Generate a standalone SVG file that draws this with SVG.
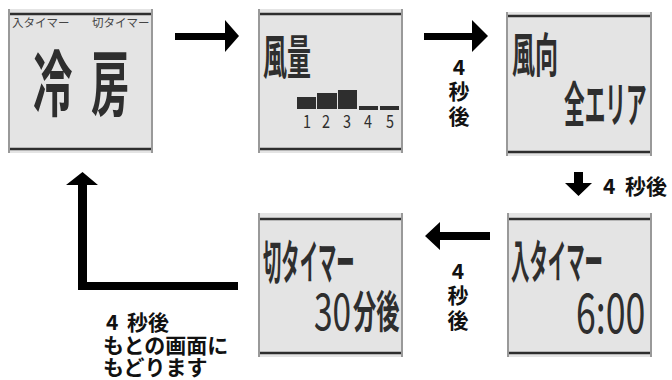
<svg xmlns="http://www.w3.org/2000/svg" width="672" height="380" viewBox="0 0 672 380">
<style>
.bg{fill:#e4e4e4}
.side{stroke:#999;stroke-width:2}
.bar{stroke:#2e2e2e;stroke-width:2.5}
.lcd{font-family:"Noto Sans CJK JP","Noto Sans",sans-serif;font-weight:bold;fill:#2e2e2e}
.dig{font-family:"Noto Sans CJK JP","Noto Sans",sans-serif;font-weight:normal;fill:#2e2e2e}
.sm{font-family:"Noto Sans CJK JP","Noto Sans",sans-serif;font-size:11.5px;fill:#444}
.lbl{font-family:"Noto Sans CJK JP","Noto Sans",sans-serif;font-weight:bold;font-size:21px;fill:#111}
.arr{fill:#000}
</style>
<g id="panel-cool">
<rect class="bg" x="8" y="9" width="145" height="144"/>
<line class="side" x1="9" y1="9" x2="9" y2="153"/>
<line class="side" x1="152" y1="9" x2="152" y2="153"/>
<line class="bar" x1="10" y1="14" x2="151" y2="14"/>
<line class="bar" x1="10" y1="149" x2="151" y2="149"/>
<text class="sm" x="12" y="27">入タイマー</text>
<text class="sm" x="92" y="27">切タイマー</text>
<text class="lcd" font-size="72" transform="translate(33,110) scale(0.55,1)">冷</text>
<text class="lcd" font-size="72" transform="translate(91,110) scale(0.53,1)">房</text>
</g>
<g id="panel-fan">
<rect class="bg" x="258" y="9" width="145" height="144"/>
<line class="side" x1="259" y1="9" x2="259" y2="153"/>
<line class="side" x1="402" y1="9" x2="402" y2="153"/>
<line class="bar" x1="260" y1="14" x2="401" y2="14"/>
<line class="bar" x1="260" y1="149" x2="401" y2="149"/>
<text class="lcd" font-size="47" transform="translate(263,74) scale(0.51,1)">風量</text>
<rect x="297" y="97" width="19" height="12" fill="#2e2e2e"/>
<rect x="317" y="93" width="20" height="16" fill="#2e2e2e"/>
<rect x="338" y="90" width="19" height="19" fill="#2e2e2e"/>
<rect x="359" y="106" width="19" height="4" fill="#2e2e2e"/>
<rect x="380" y="106" width="19" height="4" fill="#2e2e2e"/>
<text class="dig" font-size="18" transform="translate(307,128) scale(0.8,1)" text-anchor="middle">1</text>
<text class="dig" font-size="18" transform="translate(326,128) scale(0.8,1)" text-anchor="middle">2</text>
<text class="dig" font-size="18" transform="translate(347,128) scale(0.8,1)" text-anchor="middle">3</text>
<text class="dig" font-size="18" transform="translate(368,128) scale(0.8,1)" text-anchor="middle">4</text>
<text class="dig" font-size="18" transform="translate(390,128) scale(0.8,1)" text-anchor="middle">5</text>
</g>
<g id="panel-dir">
<rect class="bg" x="506" y="12" width="146" height="144"/>
<line class="side" x1="507" y1="12" x2="507" y2="156"/>
<line class="side" x1="651" y1="12" x2="651" y2="156"/>
<line class="bar" x1="508" y1="16" x2="650" y2="16"/>
<line class="bar" x1="508" y1="152" x2="650" y2="152"/>
<text class="lcd" font-size="47" transform="translate(512,72) scale(0.49,1)">風向</text>
<text class="lcd" font-size="48" transform="translate(564,122) scale(0.43,1)">全エリア</text>
</g>
<g id="panel-off">
<rect class="bg" x="258" y="213" width="145" height="144"/>
<line class="side" x1="259" y1="213" x2="259" y2="357"/>
<line class="side" x1="402" y1="213" x2="402" y2="357"/>
<line class="bar" x1="260" y1="219" x2="401" y2="219"/>
<line class="bar" x1="260" y1="353" x2="401" y2="353"/>
<text class="lcd" font-size="47" transform="translate(263,279) scale(0.39,1)">切タイマー</text>
<text class="dig" font-size="50" transform="translate(314,330) scale(0.67,1)">30</text>
<text class="lcd" font-size="44" transform="translate(353,328) scale(0.53,1)">分後</text>
</g>
<g id="panel-on">
<rect class="bg" x="507" y="213" width="145" height="144"/>
<line class="side" x1="508" y1="213" x2="508" y2="357"/>
<line class="side" x1="651" y1="213" x2="651" y2="357"/>
<line class="bar" x1="509" y1="219" x2="650" y2="219"/>
<line class="bar" x1="509" y1="353" x2="650" y2="353"/>
<text class="lcd" font-size="46" transform="translate(511,278) scale(0.4,1)">入タイマー</text>
<text class="dig" font-size="55" transform="translate(576,333) scale(0.65,1)">6:00</text>
</g>
<g id="connectors">
<polygon class="arr" points="175,33 225,33 225,20 239,36 225,52 225,40 175,40"/>
<polygon class="arr" points="424,33 472,33 472,20 488,36 472,52 472,40 424,40"/>
<polygon class="arr" points="574,172 583,172 583,183 592,183 578.5,196 565,183 574,183"/>
<polygon class="arr" points="490,232 440,232 440,222 425,236 440,250 440,240 490,240"/>
<polygon class="arr" points="78,290 238,290 238,282 87,282 87,185 98,185 82.5,172 66,185 78,185"/>
</g>
<g id="labels">
<text class="lbl" x="459" y="75" text-anchor="middle">4</text>
<text class="lbl" x="459" y="99" text-anchor="middle">秒</text>
<text class="lbl" x="459" y="124" text-anchor="middle">後</text>
<text class="lbl" x="603" y="194">4</text>
<text class="lbl" x="625" y="194">秒後</text>
<text class="lbl" x="458" y="279" text-anchor="middle">4</text>
<text class="lbl" x="458" y="303" text-anchor="middle">秒</text>
<text class="lbl" x="458" y="328" text-anchor="middle">後</text>
<text class="lbl" x="106" y="330">4</text>
<text class="lbl" x="127" y="330">秒後</text>
<text class="lbl" x="103" y="353">もとの画面に</text>
<text class="lbl" x="103" y="375">もどります</text>
</g>
</svg>
